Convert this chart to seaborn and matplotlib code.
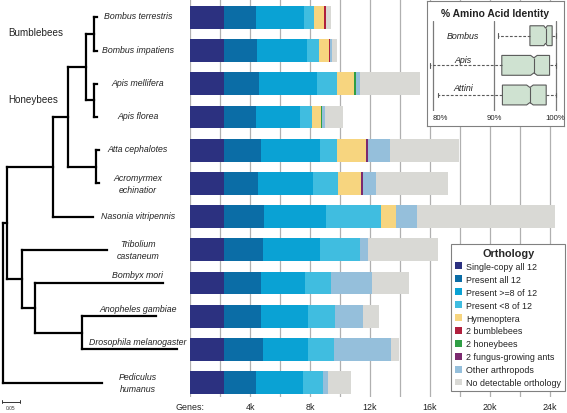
import numpy as np
import pandas as pd
import matplotlib
matplotlib.use("Agg")
import matplotlib.pyplot as plt
import seaborn as sns
from matplotlib.patches import Patch

# ---------------- data ----------------
species = ["Bombus terrestris", "Bombus impatiens", "Apis mellifera", "Apis florea",
           "Atta cephalotes", "Acromyrmex\nechinatior", "Nasonia vitripennis",
           "Tribolium\ncastaneum", "Bombyx mori", "Anopheles gambiae",
           "Drosophila melanogaster", "Pediculus\nhumanus"]

categories = ["Single-copy all 12", "Present all 12", "Present >=8 of 12",
              "Present <8 of 12", "Hymenoptera", "2 bumblebees", "2 honeybees",
              "2 fungus-growing ants", "Other arthropods", "No detectable orthology"]

single_copy_all12 = [2290, 2290, 2290, 2290, 2290, 2290, 2290, 2290, 2290, 2290, 2290, 2290]
present_all12     = [2110, 2180, 2310, 2110, 2410, 2270, 2670, 2550, 2440, 2440, 2550, 2110]
present_ge8       = [3200, 3330, 3840, 2900, 3970, 3660, 4080, 3830, 2910, 3140, 3030, 3130]
present_lt8       = [670, 800, 1340, 800, 1110, 1670, 3660, 2660, 1760, 1820, 1730, 1310]
hymenoptera       = [660, 640, 1170, 600, 1950, 1490, 1030, 0, 0, 0, 0, 0]
two_bumblebees    = [120, 120, 0, 0, 0, 0, 0, 0, 0, 0, 0, 0]
two_honeybees     = [0, 0, 120, 120, 0, 0, 0, 0, 0, 0, 0, 0]
two_fungus_ants   = [0, 0, 0, 0, 140, 170, 0, 0, 0, 0, 0, 0]
other_arthropods  = [0, 90, 260, 180, 1430, 850, 1420, 510, 2750, 1860, 3800, 340]
no_orthology      = [350, 330, 3970, 1180, 4600, 4800, 9150, 4660, 2450, 1050, 500, 1550]

series = [single_copy_all12, present_all12, present_ge8, present_lt8, hymenoptera,
          two_bumblebees, two_honeybees, two_fungus_ants, other_arthropods, no_orthology]

colors = ["#2c3180", "#0b6da6", "#0aa2d4", "#40bde0", "#f7d57f",
          "#b01f3d", "#2f9e45", "#7b2a6f", "#95bfdb", "#d9d9d5"]

x_ticks = [0, 2000, 4000, 6000, 8000, 10000, 12000, 14000, 16000, 18000, 20000, 22000, 24000]
x_tick_labels = ["Genes:", "", "4k", "", "8k", "", "12k", "", "16k", "", "20k", "", "24k"]

# phylogeny: internal nodes (name, parent, depth) and tips (parent, depth)
node_names  = ["root", "holo", "hym", "acul", "apid", "bombus", "apis", "attini",
               "tribclade", "lepdip", "dipt"]
node_parent = [None, "root", "holo", "hym", "acul", "apid", "apid", "acul",
               "holo", "tribclade", "lepdip"]
node_depth  = [0.0075, 0.0203, 0.148, 0.190, 0.239, 0.262, 0.262, 0.267,
               0.060, 0.097, 0.227]
tip_parent = ["bombus", "bombus", "apis", "apis", "attini", "attini", "hym",
              "tribclade", "lepdip", "dipt", "dipt", "root"]
tip_depth  = [0.269, 0.269, 0.269, 0.269, 0.276, 0.276, 0.258,
              0.297, 0.452, 0.433, 0.491, 0.2825]

# inset: % amino acid identity
aa_groups = ["Bombus", "Apis", "Attini"]
aa_whislo = [90.65, 79.63, 80.81]
aa_q1     = [95.83, 91.25, 91.35]
aa_med    = [98.38, 96.48, 95.83]
aa_q3     = [99.45, 99.03, 98.48]
aa_whishi = [100.0, 100.0, 100.0]
aa_ci_lo  = [98.10, 95.95, 95.30]
aa_ci_hi  = [98.66, 97.01, 96.36]

# ---------------- style ----------------
sns.set_style("white")
plt.rcParams["font.family"] = ["Liberation Sans", "DejaVu Sans"]
TXT = "#222222"

W, H = 567, 414
fig = plt.figure(figsize=(W / 100, H / 100), dpi=100)


def px_axes(x0, y0, x1, y1):
    return fig.add_axes([x0 / W, 1 - y1 / H, (x1 - x0) / W, (y1 - y0) / H])


ROW0, PITCH = 18.5, 33.2   # px of first row centre, px between rows

# ---------------- main stacked bars ----------------
ax = px_axes(190, 0, 562, 398)
df = pd.DataFrame({c: v for c, v in zip(categories, series)})
cum = df.cumsum(axis=1)
cum["species"] = species
for cat, col in reversed(list(zip(categories, colors))):
    sns.barplot(data=cum, x=cat, y="species", orient="h", color=col, saturation=1,
                width=0.69, errorbar=None, edgecolor="none", linewidth=0, ax=ax)
ax.set_xlim(0, 24800)
ax.set_ylim(11 + (398 - 383.5) / PITCH, -ROW0 / PITCH)
ax.set_xlabel("")
ax.set_ylabel("")
ax.set_yticks([])
ax.set_xticks(x_ticks)
ax.set_xticklabels(x_tick_labels)
ax.tick_params(axis="x", length=0, pad=3.5, labelsize=6.4, labelcolor=TXT)
for s in ax.spines.values():
    s.set_visible(False)
ax.grid(axis="x", color="#b0b0b0", lw=0.9)
ax.grid(axis="y", visible=False)
ax.set_axisbelow(True)

# ---------------- tree ----------------
tx = px_axes(0, 0, 190, 414)
tx.set_facecolor("none")
tx.set_xlim(0, 190 / 360)
tx.set_ylim(11 + (414 - 383.5) / PITCH, -ROW0 / PITCH)
tx.axis("off")

depth_of = dict(zip(node_names, node_depth))
children = {n: [] for n in node_names}
for n, p in zip(node_names, node_parent):
    if p is not None:
        children[p].append(("node", n))
for i, p in enumerate(tip_parent):
    children[p].append(("tip", i))

lw_tree = 1.6


def node_y(n):
    ys = []
    for kind, c in children[n]:
        ys.append(node_y(c) if kind == "node" else c)
    y = (min(ys) + max(ys)) / 2
    tx.plot([depth_of[n], depth_of[n]], [min(ys), max(ys)], color="black", lw=lw_tree,
            solid_capstyle="projecting")
    for (kind, c), cy in zip(children[n], ys):
        end = depth_of[c] if kind == "node" else tip_depth[c]
        tx.plot([depth_of[n], end], [cy, cy], color="black", lw=lw_tree,
                solid_capstyle="projecting")
    return y


node_y("root")

for i, name in enumerate(species):
    lift = -8 / PITCH if tip_depth[i] > 0.33 else (-1.5 / PITCH if "\n" not in name else 0)
    tx.text(138 / 360, i + lift, name, ha="center", va="center", style="italic",
            fontsize=6.3, color=TXT, linespacing=1.4)

tx.text(8 / 360, (33 - ROW0) / PITCH, "Bumblebees", fontsize=7.1, color=TXT, va="center")
tx.text(8 / 360, (100 - ROW0) / PITCH, "Honeybees", fontsize=7.1, color=TXT, va="center")

ys = (402.7 - ROW0) / PITCH
tx.plot([2 / 360, 20 / 360], [ys, ys], color="#333", lw=0.7)
for xe in (2 / 360, 20 / 360):
    tx.plot([xe, xe], [ys - 0.06, ys + 0.06], color="#333", lw=0.7)
tx.text(11 / 360, (409 - ROW0) / PITCH, "0.05", fontsize=3.5, ha="center", va="center",
        color="#333")

# ---------------- legend ----------------
handles = [Patch(facecolor=c, edgecolor="none") for c in colors]
leg = fig.legend(handles, categories, title="Orthology", loc="upper right",
                 bbox_to_anchor=(565 / W, 1 - 245 / H), frameon=True, fancybox=False,
                 framealpha=1, edgecolor="#808080", fontsize=6.4,
                 title_fontproperties={"weight": "bold", "size": 7.8},
                 handlelength=0.8, handleheight=0.8, handletextpad=0.4,
                 labelspacing=0.44, borderpad=0.45, borderaxespad=0)
leg.get_frame().set_linewidth(0.8)
for t in leg.get_texts():
    t.set_color(TXT)

# ---------------- inset boxplot ----------------
fx = px_axes(426.7, 1.7, 564, 126.7)
fx.set_xticks([])
fx.set_yticks([])
fx.set_facecolor("white")
for s in fx.spines.values():
    s.set_color("#808080")
    s.set_linewidth(0.8)
fx.text(0.5, 1 - 12.3 / 125, "% Amino Acid Identity", transform=fx.transAxes,
        ha="center", va="center", fontsize=7.4, weight="bold", color=TXT)

ix = px_axes(426.7, 22, 564, 112)
ix.set_facecolor("none")
stats = []
for g, lo, q1, med, q3, hi, cl, ch in zip(aa_groups, aa_whislo, aa_q1, aa_med, aa_q3,
                                         aa_whishi, aa_ci_lo, aa_ci_hi):
    stats.append(dict(label=g, whislo=lo, q1=q1, med=med, q3=q3, whishi=hi,
                      cilo=cl, cihi=ch, fliers=[]))
box_w = 0.67
positions = [0, 1, 2]
bp = ix.bxp(stats, positions=positions, widths=box_w, orientation="horizontal",
            patch_artist=True, shownotches=True, showfliers=False, capwidths=0.15,
            boxprops=dict(facecolor="#cfe2d1", edgecolor="#5a5a5a", lw=0.8),
            whiskerprops=dict(color="#5a5a5a", lw=0.8, ls=(0, (2.5, 1.5))),
            capprops=dict(color="#5a5a5a", lw=0.8),
            medianprops=dict(color="#5a5a5a", lw=0.8))
# make the notches shallower, as in the reference
for box, pos in zip(bp["boxes"], positions):
    path = box.get_path()
    v = path.vertices.copy()
    off = v[:, 1] - pos
    inner = np.isclose(np.abs(off), 0.25 * box_w)
    v[inner, 1] = pos + np.sign(off[inner]) * 0.38 * box_w
    path.vertices = v
for med, pos in zip(bp["medians"], positions):
    med.set_ydata([pos - 0.38 * box_w, pos + 0.38 * box_w])
ix.set_xlim(79.02, 101.38)
ix.set_ylim(2.54, -0.496)
ix.set_yticks([])
ix.set_xticks([80, 90, 100])
ix.set_xticklabels(["80%", "90%", "100%"])
ix.tick_params(axis="x", length=0, pad=2, labelsize=5.6, labelcolor=TXT)
ix.get_xticklabels()[0].set_ha("left")
ix.grid(axis="x", color="#7a7a7a", lw=0.9)
ix.grid(axis="y", visible=False)
ix.set_axisbelow(True)
for s in ix.spines.values():
    s.set_visible(False)
label_y = [0.0, 0.8, 1.76]
for g, yy in zip(aa_groups, label_y):
    ix.text(84.93, yy, g, ha="center", va="center", style="italic", fontsize=6.4, color=TXT)

fig.savefig("out.png", dpi=100)
